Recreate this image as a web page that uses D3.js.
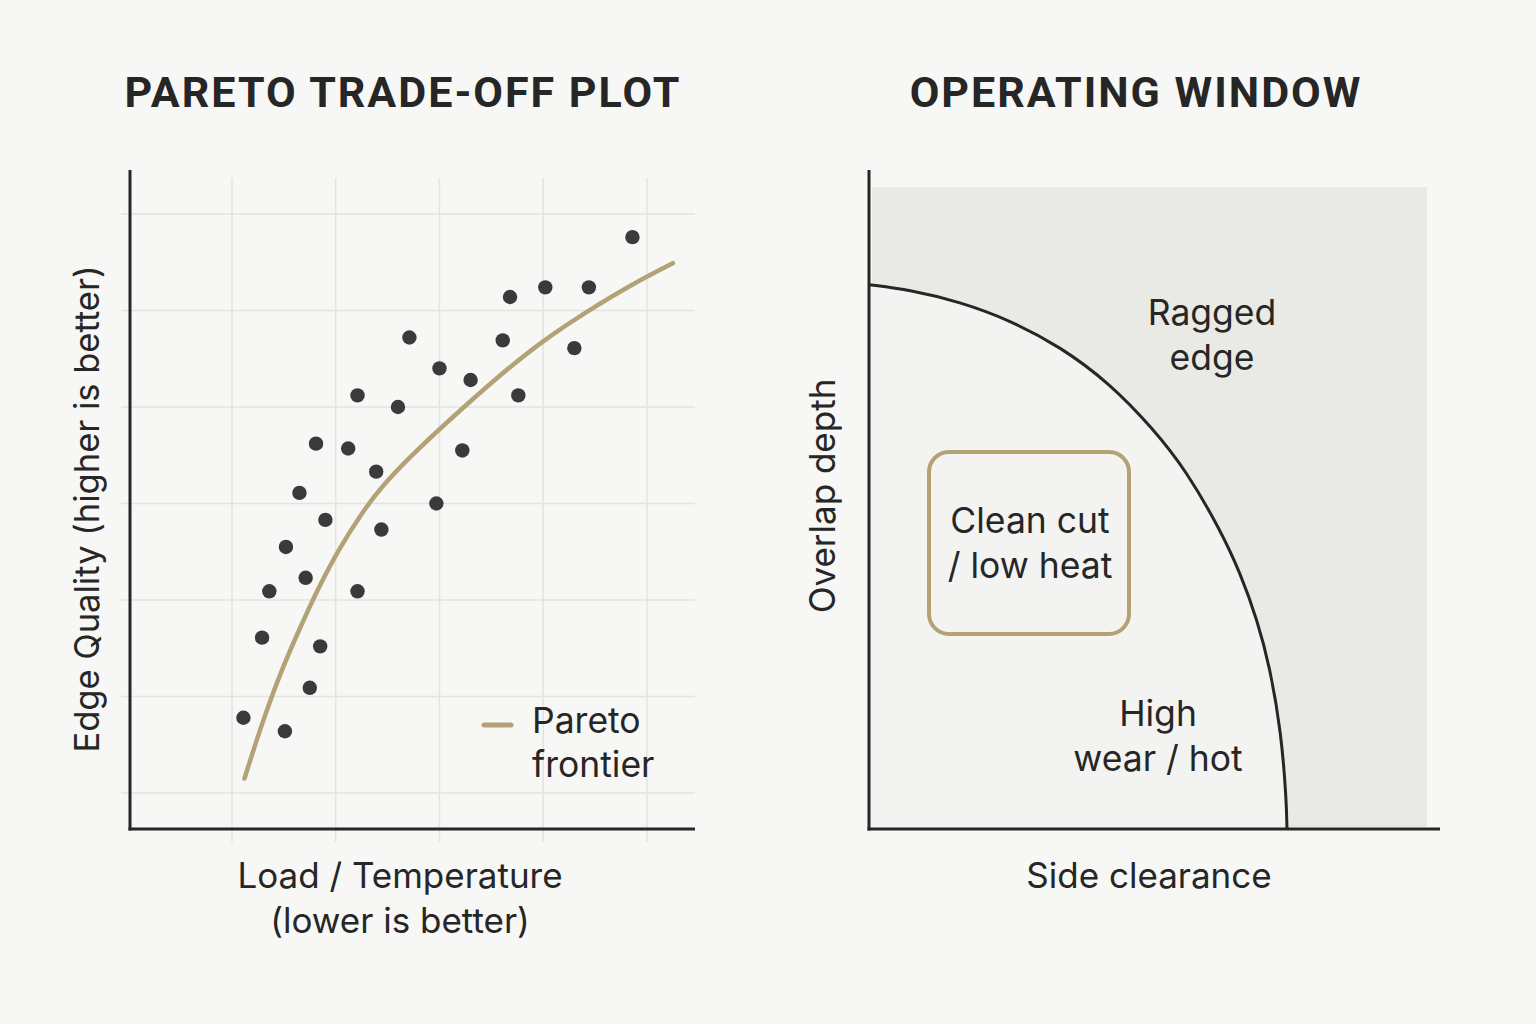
<!DOCTYPE html>
<html>
<head>
<meta charset="utf-8">
<script src="https://cdn.jsdelivr.net/npm/d3@7"></script>
<style>
  html, body { margin: 0; padding: 0; background: #f7f7f5; }
  svg { display: block; }
</style>
</head>
<body>
<svg id="chart" width="1536" height="1024"></svg>
<script>
// ---------- DATA ----------
// Left panel: Pareto trade-off (x = load/temperature, y = edge quality), arbitrary grid units
const xGridTicks = [1, 2, 3, 4, 5];
const yGridTicks = [1, 2, 3, 4, 5, 6, 7];
const pointsX = [4.86, 4.02, 4.44, 3.68, 3.61, 4.30, 2.71, 3.00, 3.30, 3.76, 2.21, 2.60, 1.81, 2.12, 3.22,
                 2.39, 1.65, 2.97, 1.90, 2.44, 1.52, 1.71, 1.36, 2.21, 1.29, 1.85, 1.75, 1.11, 1.51];
const pointsY = [6.76, 6.24, 6.24, 6.14, 5.69, 5.61, 5.72, 5.40, 5.28, 5.12, 5.12, 5.00, 4.62, 4.57, 4.55,
                 4.33, 4.11, 4.00, 3.83, 3.73, 3.55, 3.23, 3.09, 3.09, 2.61, 2.52, 2.09, 1.78, 1.64];
const frontierX = [1.12, 1.30, 1.49, 1.66, 1.82, 2.04, 2.27, 2.43, 2.72, 3.10, 3.58, 4.00, 4.42, 4.87, 5.25];
const frontierY = [1.15, 1.76, 2.31, 2.72, 3.10, 3.55, 3.93, 4.16, 4.49, 4.87, 5.33, 5.69, 5.99, 6.28, 6.49];
const legendLabel = ["Pareto", "frontier"];

// Right panel: operating window boundary (x = side clearance, y = overlap depth), 0-10 units
const boundaryX = [0, 0.72, 1.59, 2.47, 3.35, 4.22, 4.97, 5.57, 6.15, 6.50, 6.80, 7.02, 7.22, 7.31, 7.32];
const boundaryY = [8.26, 8.18, 8.00, 7.72, 7.32, 6.76, 6.08, 5.42, 4.54, 3.89, 3.17, 2.46, 1.46, 0.44, 0];
const regionNames = ["Clean cut / low heat", "Ragged edge", "High wear / hot"];

// Text
const titles = ["PARETO TRADE-OFF PLOT", "OPERATING WINDOW"];
const leftXLabel = ["Load / Temperature", "(lower is better)"];
const leftYLabel = "Edge Quality (higher is better)";
const rightXLabel = "Side clearance";
const rightYLabel = "Overlap depth";

// ---------- STYLE ----------
const INK = "#262626";
const DOT = "#3a3a3a";
const TAN = "#b2a276";
const GRID = "#e3e3e1";
const SHADE = "#e9e9e6";
const INSIDE = "#f3f3f1";
const TITLE_FONT = "Roboto, 'DejaVu Sans', sans-serif";
const BODY_FONT = "Inter, Roboto, 'DejaVu Sans', sans-serif";

const svg = d3.select("#chart");
svg.append("rect").attr("width", 1536).attr("height", 1024).attr("fill", "#f7f7f5");

// ---------- LEFT PANEL ----------
const L = { left: 128.25, right: 695, top: 170, bottom: 829 };
const xL = d3.scaleLinear().domain([0, 5.463]).range([L.left, L.right]);
const yL = d3.scaleLinear().domain([0.627, 7.456]).range([L.bottom, L.top]);

const gL = svg.append("g");
// grid
gL.selectAll("line.vg").data(xGridTicks).join("line")
  .attr("x1", d => xL(d)).attr("x2", d => xL(d))
  .attr("y1", 178).attr("y2", 842)
  .attr("stroke", GRID).attr("stroke-width", 1.5);
gL.selectAll("line.hg").data(yGridTicks).join("line")
  .attr("x1", 121).attr("x2", L.right)
  .attr("y1", d => yL(d)).attr("y2", d => yL(d))
  .attr("stroke", GRID).attr("stroke-width", 1.5);
// axes
gL.append("line").attr("x1", 130).attr("x2", 130).attr("y1", L.top).attr("y2", L.bottom + 1.5)
  .attr("stroke", INK).attr("stroke-width", 3);
gL.append("line").attr("x1", 128.5).attr("x2", L.right).attr("y1", L.bottom).attr("y2", L.bottom)
  .attr("stroke", INK).attr("stroke-width", 3);

// frontier
const frontier = frontierX.map((x, i) => [x, frontierY[i]]);
gL.append("path")
  .datum(frontier)
  .attr("d", d3.line().x(d => xL(d[0])).y(d => yL(d[1])).curve(d3.curveBasis))
  .attr("fill", "none").attr("stroke", TAN).attr("stroke-width", 4.5).attr("stroke-linecap", "round");

// points
const pts = pointsX.map((x, i) => [x, pointsY[i]]);
gL.selectAll("circle.pt").data(pts).join("circle")
  .attr("cx", d => xL(d[0])).attr("cy", d => yL(d[1])).attr("r", 7.2)
  .attr("fill", DOT);

// legend
gL.append("line").attr("x1", 484).attr("x2", 511).attr("y1", 725).attr("y2", 725)
  .attr("stroke", TAN).attr("stroke-width", 5).attr("stroke-linecap", "round");
gL.selectAll("text.leg").data(legendLabel).join("text")
  .attr("x", 532).attr("y", (d, i) => 733 + i * 44)
  .attr("font-family", BODY_FONT).attr("font-size", 35.5).attr("fill", INK)
  .text(d => d);

// titles
svg.selectAll("text.title").data(titles).join("text")
  .attr("x", (d, i) => i === 0 ? 403 : 1136).attr("y", 107)
  .attr("text-anchor", "middle")
  .attr("font-family", TITLE_FONT).attr("font-weight", 700).attr("font-size", 43)
  .attr("letter-spacing", 2).attr("fill", INK)
  .text(d => d);

// left axis labels
svg.selectAll("text.lx").data(leftXLabel).join("text")
  .attr("x", 400).attr("y", (d, i) => 888 + i * 45)
  .attr("text-anchor", "middle")
  .attr("font-family", BODY_FONT).attr("font-size", 35).attr("fill", INK)
  .text(d => d);
svg.append("text")
  .attr("transform", "translate(99,509) rotate(-90)")
  .attr("text-anchor", "middle")
  .attr("font-family", BODY_FONT).attr("font-size", 34.5).attr("fill", INK)
  .text(leftYLabel);

// ---------- RIGHT PANEL ----------
const R = { left: 869, right: 1440, top: 170, bottom: 829 };
const xR = d3.scaleLinear().domain([0, 10]).range([R.left, R.right]);
const yR = d3.scaleLinear().domain([0, 10]).range([R.bottom, R.top]);

const gR = svg.append("g");
// shaded background (outside operating window)
gR.append("rect").attr("x", 872).attr("y", 187).attr("width", 1427 - 872).attr("height", 827 - 187)
  .attr("fill", SHADE);

const boundary = boundaryX.map((x, i) => [x, boundaryY[i]]);
const bLine = d3.line().x(d => xR(d[0])).y(d => yR(d[1])).curve(d3.curveBasis);
// inside fill
gR.append("path")
  .attr("d", bLine(boundary) + `L${xR(0)},${yR(0)}Z`)
  .attr("fill", INSIDE);
// boundary stroke
gR.append("path").datum(boundary).attr("d", bLine)
  .attr("fill", "none").attr("stroke", INK).attr("stroke-width", 3);

// axes
gR.append("line").attr("x1", R.left).attr("x2", R.left).attr("y1", R.top).attr("y2", R.bottom + 1.5)
  .attr("stroke", INK).attr("stroke-width", 3);
gR.append("line").attr("x1", R.left - 1.5).attr("x2", R.right).attr("y1", R.bottom).attr("y2", R.bottom)
  .attr("stroke", INK).attr("stroke-width", 3);

// clean cut box
gR.append("rect").attr("x", 929).attr("y", 452).attr("width", 200).attr("height", 182)
  .attr("rx", 20).attr("ry", 20)
  .attr("fill", INSIDE).attr("stroke", TAN).attr("stroke-width", 4);

const regionLayout = [
  { cx: 1030, y: 533, lines: ["Clean cut", "/ low heat"] },
  { cx: 1212, y: 325, lines: ["Ragged", "edge"] },
  { cx: 1158, y: 726, lines: ["High", "wear / hot"] }
];
regionLayout.forEach((r, k) => {
  gR.append("text")
    .attr("text-anchor", "middle")
    .attr("font-family", BODY_FONT).attr("font-size", 35.5).attr("fill", INK)
    .attr("aria-label", regionNames[k])
    .selectAll("tspan").data(r.lines).join("tspan")
    .attr("x", r.cx).attr("y", (d, i) => r.y + i * 45)
    .text(d => d);
});

svg.append("text")
  .attr("x", 1149).attr("y", 888)
  .attr("text-anchor", "middle")
  .attr("font-family", BODY_FONT).attr("font-size", 35).attr("fill", INK)
  .text(rightXLabel);
svg.append("text")
  .attr("transform", "translate(835,496) rotate(-90)")
  .attr("text-anchor", "middle")
  .attr("font-family", BODY_FONT).attr("font-size", 35).attr("fill", INK)
  .text(rightYLabel);
</script>
</body>
</html>
